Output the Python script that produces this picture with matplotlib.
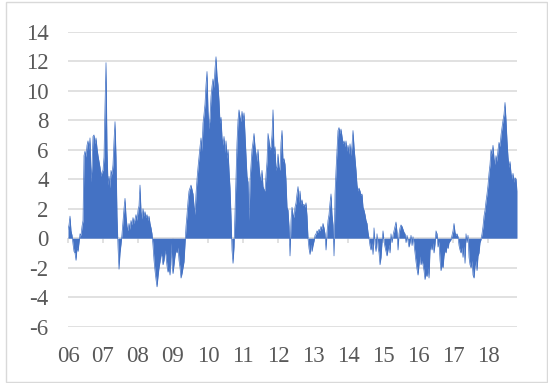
import matplotlib
matplotlib.use("Agg")
import matplotlib.pyplot as plt
import numpy as np
from matplotlib.patches import Rectangle

# Values, ~35 samples per year (roughly every 10 days)
v2006 = [0.6, 0.9, 1.5, 0.5, 0.2, -0.4, -0.9, -1.0, -1.5, -0.6, -0.9, -0.3, 0.3, 0.2, 0.8, 1.2,
         5.6, 5.9, 5.5, 6.3, 6.6, 6.0, 6.8, 3.8, 5.0, 6.9, 7.0, 6.4, 6.8, 6.1, 5.6, 5.2, 4.8, 4.2, 4.5]
v2007 = [4.6, 5.5, 9.0, 11.9, 6.0, 3.6, 4.2, 3.4, 4.6, 4.3, 5.0, 6.6, 7.9, 5.5, 1.5, -0.6, -2.1,
         -1.0, -0.4, 0.3, 1.2, 2.0, 2.7, 1.5, 0.8, 0.5, 1.0, 0.6, 1.2, 0.9, 1.4, 1.0, 1.3, 1.6, 1.2]
v2008 = [1.9, 2.2, 3.6, 1.8, 1.3, 2.0, 1.5, 1.8, 1.4, 1.6, 1.2, 1.5, 1.0, 0.7, 0.3, -0.5, -1.5,
         -2.2, -2.8, -3.3, -2.6, -2.0, -1.6, -1.0, -1.3, -1.8, -1.5, -0.8, -1.2, -1.9, -2.3, -2.0,
         -2.5, -0.3, -1.8]
v2009 = [-2.4, -1.8, -1.2, -0.8, -1.0, -0.6, -1.5, -2.0, -2.7, -2.4, -2.0, -1.6, -0.4, 0.8, 1.6,
         2.5, 3.2, 3.4, 3.6, 3.3, 3.0, 2.2, 1.6, 3.0, 4.0, 4.8, 5.5, 6.2, 6.8, 5.9, 7.8, 8.4, 9.1,
         10.4, 11.3]
v2010 = [8.6, 7.4, 8.2, 9.6, 10.3, 10.8, 10.2, 11.5, 12.3, 11.0, 10.4, 9.3, 7.8, 8.2, 6.8, 6.3,
         6.9, 5.8, 6.6, 5.4, 6.0, 4.6, 3.4, 1.5, -0.8, -1.7, -0.6, 1.8, 4.2, 6.5, 8.0, 8.7, 8.2,
         7.9, 8.6]
v2011 = [8.0, 8.5, 7.0, 5.6, 4.2, 3.8, 1.2, 3.9, 5.0, 6.0, 6.5, 7.1, 6.2, 5.7, 5.2, 6.0, 4.9, 4.2,
         3.9, 4.6, 3.5, 3.3, 3.2, 4.3, 5.2, 7.1, 6.6, 6.0, 6.2, 7.0, 8.7, 5.7, 6.2, 4.6, 4.9]
v2012 = [5.7, 4.8, 4.6, 6.5, 7.3, 5.2, 5.4, 5.0, 3.9, 2.1, 1.9, 0.8, -1.2, 1.2, 2.1, 1.6, 1.4, 2.1,
         2.4, 3.0, 3.5, 2.4, 3.2, 2.3, 2.6, 2.2, 2.3, 2.1, 2.4, 1.5, 0.0, -0.7, -1.1, -0.4, -0.9]
v2013 = [-0.5, -0.2, 0.2, 0.3, 0.5, 0.4, 0.6, 0.5, 0.8, 0.6, 1.0, 0.7, 0.3, -0.8, 0.4, 1.2, 1.6,
         2.4, 3.0, 1.6, 0.9, -1.2, 3.0, 4.6, 6.0, 7.3, 7.5, 7.1, 7.4, 6.9, 6.4, 6.6, 6.2, 6.6, 5.9]
v2014 = [6.3, 5.7, 6.4, 5.6, 6.3, 7.3, 6.2, 5.4, 4.6, 3.6, 3.2, 3.4, 3.2, 2.9, 3.0, 2.1, 1.9, 1.6,
         1.2, 1.0, 0.4, 0.0, -0.5, -0.8, -0.3, -1.1, 0.7, -0.4, -0.9, 0.3, -0.6, -1.0, -1.8, -1.3,
         -0.3]
v2015 = [0.5, -0.2, -0.6, -0.9, -1.2, -0.8, -0.4, -1.0, 0.3, -0.3, 0.2, 0.5, 0.8, 1.1, 0.4, -0.8,
         0.3, 0.7, 0.9, 0.8, 0.6, 0.4, 0.3, -0.3, 0.2, -0.2, -0.6, -0.3, 0.2, -0.5, 0.1, -0.4, -1.0,
         -1.6, -2.1]
v2016 = [-2.5, -1.8, -1.2, -1.8, -1.5, -1.8, -2.2, -2.8, -2.4, -2.6, -2.0, -2.7, -0.8, -0.5, -0.8,
         -0.3, -1.0, -0.4, 0.5, 0.3, -0.6, -0.2, -1.5, -2.2, -1.8, -2.0, -1.2, -0.8, -1.0, -0.5,
         -0.7, -0.3, -0.2, -0.1, 0.2]
v2017 = [0.5, 1.0, 0.4, 0.2, 0.3, 0.1, -0.5, -0.8, -1.0, -0.6, -1.3, -0.5, -1.7, 0.3, -0.3, 0.2,
         -1.3, -1.8, -2.0, -1.5, -2.5, -2.7, -1.9, -1.5, -2.2, -1.2, -1.0, -0.3, -0.1, 0.3, 0.8,
         1.5, 1.9, 2.5, 3.0]
v2018 = [3.6, 4.4, 5.0, 6.0, 5.7, 6.3, 5.4, 5.0, 5.6, 5.2, 6.0, 6.5, 6.2, 7.0, 7.5, 8.0, 8.4, 9.2,
         8.0, 6.6, 5.5, 4.8, 5.2, 4.4, 4.0, 4.4, 3.8, 4.1, 4.0, 3.2]

year_labels = ["06", "07", "08", "09", "10", "11", "12", "13", "14", "15", "16", "17", "18"]
yticks = [-6, -4, -2, 0, 2, 4, 6, 8, 10, 12, 14]
samples_per_year = 35

plt.rcParams["font.family"] = ["Liberation Serif", "DejaVu Serif"]

series = [v2006, v2007, v2008, v2009, v2010, v2011, v2012, v2013, v2014, v2015, v2016, v2017, v2018]
x = np.concatenate([k + np.arange(len(s)) / samples_per_year for k, s in enumerate(series)])
y = np.concatenate([np.array(s, dtype=float) for s in series])

fig = plt.figure(figsize=(5.48, 3.83), dpi=100)
ax = fig.add_axes([68 / 548, 1 - 326.7 / 383, (517 - 68) / 548, (326.7 - 31.7) / 383])

blue = "#4472C4"
ax.fill_between(x, y, 0, color=blue, lw=0)
ax.plot(x, y, color=blue, lw=0.5)

ax.set_xlim(0, x[-1])
ax.set_ylim(-6, 14)
ax.set_yticks(yticks)
ax.set_yticklabels([str(t) for t in yticks])
ax.set_xticks(range(len(year_labels)))
ax.set_xticklabels(year_labels)

for t in yticks:
    ax.axhline(t, color="#D9D9D9", lw=1.1, zorder=0)
for s in ax.spines.values():
    s.set_visible(False)

ax.tick_params(axis="both", length=0, labelcolor="#595959", labelsize=16.5)
ax.tick_params(axis="y", pad=14)
ax.tick_params(axis="x", pad=14)

# tick marks on the zero line
sec = ax.secondary_xaxis(6 / 20)
sec.set_xticks(range(len(year_labels)))
sec.set_xticklabels([])
sec.tick_params(axis="x", direction="out", length=3.5, width=1.1, color="#D9D9D9")
sec.spines["bottom"].set_visible(False)
sec.spines["top"].set_visible(False)

# chart border
fig.patches.append(Rectangle((5.5 / 548, 1.5 / 383), 541 / 548, 380 / 383,
                             transform=fig.transFigure, fill=False,
                             edgecolor="#D9D9D9", lw=1.0))

fig.savefig("out.png", dpi=100)
